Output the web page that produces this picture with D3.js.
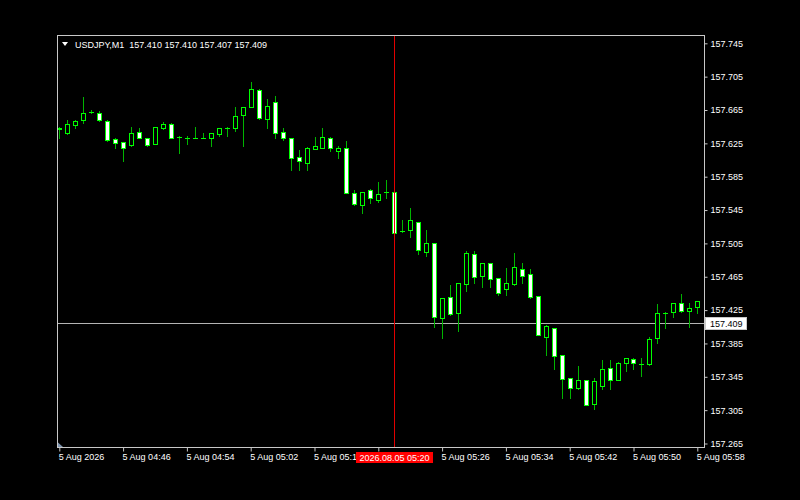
<!DOCTYPE html>
<html>
<head>
<meta charset="utf-8">
<script src="https://cdn.jsdelivr.net/npm/d3@7"></script>
<style>
html,body{margin:0;padding:0;background:#000;}
svg{display:block;}
text{font-family:"Liberation Sans",Arial,sans-serif;font-size:9px;}
</style>
</head>
<body>
<script>
// ---- data ----
const symbolLabel = "USDJPY,M1";
const headerValues = ["157.410", "157.410", "157.407", "157.409"];
const times = ["04:38","04:39","04:40","04:41","04:42","04:43","04:44","04:45","04:46","04:47",
"04:48","04:49","04:50","04:51","04:52","04:53","04:54","04:55","04:56","04:57",
"04:58","04:59","05:00","05:01","05:02","05:03","05:04","05:05","05:06","05:07",
"05:08","05:09","05:10","05:11","05:12","05:13","05:14","05:15","05:16","05:17",
"05:18","05:19","05:20","05:21","05:22","05:23","05:24","05:25","05:26","05:27",
"05:28","05:29","05:30","05:31","05:32","05:33","05:34","05:35","05:36","05:37",
"05:38","05:39","05:40","05:41","05:42","05:43","05:44","05:45","05:46","05:47",
"05:48","05:49","05:50","05:51","05:52","05:53","05:54","05:55","05:56","05:57","05:58"];
const open = [157.642,157.638,157.647,157.653,157.663,157.662,157.652,157.630,157.627,157.623,
157.639,157.632,157.624,157.644,157.648,157.633,157.632,157.632,157.632,157.632,
157.636,157.644,157.643,157.659,157.668,157.689,157.654,157.674,157.639,157.632,
157.609,157.602,157.618,157.620,157.632,157.616,157.619,157.565,157.551,157.569,
157.557,157.567,157.567,157.520,157.521,157.531,157.495,157.505,157.415,157.441,
157.421,157.456,157.492,157.466,157.482,157.463,157.450,157.456,157.474,157.468,
157.442,157.393,157.404,157.371,157.343,157.332,157.341,157.312,157.334,157.355,
157.341,157.361,157.366,157.360,157.360,157.391,157.422,157.423,157.434,157.424,157.429];
const high = [157.645,157.653,157.653,157.681,157.665,157.664,157.653,157.632,157.627,157.645,
157.644,157.632,157.645,157.651,157.649,157.634,157.634,157.645,157.637,157.637,
157.644,157.645,157.668,157.669,157.698,157.690,157.678,157.682,157.644,157.632,
157.617,157.621,157.633,157.644,157.633,157.622,157.628,157.569,157.567,157.570,
157.579,157.581,157.568,157.533,157.547,157.531,157.521,157.506,157.440,157.455,
157.458,157.496,157.496,157.481,157.482,157.463,157.475,157.493,157.481,157.474,
157.442,157.407,157.404,157.371,157.343,157.358,157.341,157.344,157.365,157.365,
157.363,157.367,157.367,157.367,157.393,157.432,157.423,157.434,157.444,157.433,157.436];
const low = [157.632,157.636,157.644,157.649,157.662,157.652,157.628,157.620,157.604,157.622,
157.631,157.622,157.624,157.642,157.631,157.613,157.624,157.631,157.631,157.622,
157.634,157.634,157.640,157.622,157.668,157.654,157.643,157.632,157.629,157.593,
157.593,157.593,157.618,157.619,157.616,157.608,157.565,157.551,157.542,157.553,
157.555,157.559,157.517,157.519,157.513,157.492,157.490,157.405,157.391,157.419,
157.400,157.448,157.457,157.453,157.453,157.443,157.443,157.455,157.458,157.440,
157.395,157.371,157.354,157.319,157.319,157.330,157.311,157.306,157.330,157.330,
157.341,157.352,157.354,157.346,157.359,157.385,157.404,157.417,157.423,157.405,157.421];
const close = [157.643,157.648,157.652,157.662,157.663,157.653,157.629,157.625,157.619,157.638,
157.632,157.623,157.645,157.648,157.632,157.633,157.632,157.632,157.632,157.637,
157.643,157.644,157.658,157.668,157.690,157.655,157.670,157.637,157.631,157.608,
157.604,157.620,157.622,157.633,157.619,157.620,157.566,157.552,157.567,157.560,
157.564,157.567,157.517,157.520,157.533,157.497,157.506,157.417,157.440,157.420,
157.457,157.494,157.465,157.481,157.462,157.446,157.457,157.477,157.466,157.441,
157.395,157.406,157.370,157.342,157.331,157.341,157.311,157.340,157.354,157.341,
157.362,157.367,157.361,157.360,157.390,157.421,157.422,157.434,157.424,157.428,157.436];
const yTickValues = [157.265,157.305,157.345,157.385,157.425,157.465,157.505,157.545,157.585,157.625,157.665,157.705,157.745];
const xTickTimes = ["04:38","04:46","04:54","05:02","05:10","05:18","05:26","05:34","05:42","05:50","05:58"];
const xTickLabels = ["5 Aug 2026","5 Aug 04:46","5 Aug 04:54","5 Aug 05:02","5 Aug 05:10","5 Aug 05:18","5 Aug 05:26","5 Aug 05:34","5 Aug 05:42","5 Aug 05:50","5 Aug 05:58"];
const bidPrice = 157.409;
const bidLabel = "157.409";
const crossTime = "05:20";
const crossLabel = "2026.08.05 05:20";

// ---- setup ----
const W = 800, H = 500;
const frame = {left: 57.5, top: 35.5, right: 704.5, bottom: 447.5};
const parseT = t => { const [h, m] = t.split(":").map(Number); return new Date(2026, 7, 5, h, m); };
const candles = times.map((t, i) => ({t: parseT(t), o: open[i], h: high[i], l: low[i], c: close[i]}));

const x = d3.scaleTime().domain([parseT("04:38"), parseT("05:58")]).range([59.3, 697.3]);
const y = d3.scaleLinear().domain([157.265, 157.745]).range([443.5, 43.3]);

const svg = d3.select("body").append("svg").attr("width", W).attr("height", H);
svg.append("rect").attr("width", W).attr("height", H).attr("fill", "#000");

svg.append("defs").append("clipPath").attr("id", "plot")
  .append("rect").attr("x", frame.left + 0.5).attr("y", frame.top + 0.5)
  .attr("width", frame.right - frame.left - 1).attr("height", frame.bottom - frame.top - 1);

// bid line
const by = Math.round(y(bidPrice)) + 0.5;
svg.append("line").attr("x1", frame.left).attr("x2", frame.right).attr("y1", by).attr("y2", by)
  .attr("stroke", "#b4b4b4").attr("stroke-width", 1);

// candles
const g = svg.append("g").attr("clip-path", "url(#plot)").attr("shape-rendering", "crispEdges");
const cg = g.selectAll("g.c").data(candles).join("g").attr("class", "c");
cg.append("rect")
  .attr("x", d => Math.round(x(d.t)))
  .attr("width", 1)
  .attr("y", d => Math.round(y(d.h)))
  .attr("height", d => Math.max(1, Math.round(y(d.l)) - Math.round(y(d.h)) + 1))
  .attr("fill", "#00b400");
cg.append("rect")
  .attr("x", d => Math.round(x(d.t)) - 2)
  .attr("width", 5)
  .attr("y", d => Math.round(y(Math.max(d.o, d.c))))
  .attr("height", d => Math.max(1, Math.round(y(Math.min(d.o, d.c))) - Math.round(y(Math.max(d.o, d.c))) + 1))
  .attr("fill", "#00ff00");
cg.filter(d => Math.round(y(Math.min(d.o, d.c))) - Math.round(y(Math.max(d.o, d.c))) >= 2)
  .append("rect")
  .attr("x", d => Math.round(x(d.t)) - 1)
  .attr("width", 3)
  .attr("y", d => Math.round(y(Math.max(d.o, d.c))) + 1)
  .attr("height", d => Math.round(y(Math.min(d.o, d.c))) - Math.round(y(Math.max(d.o, d.c))) - 1)
  .attr("fill", d => d.c >= d.o ? "#000" : "#fff");

// crosshair vertical
const cx = Math.round(x(parseT(crossTime))) + 0.5;
svg.append("line").attr("x1", cx).attr("x2", cx).attr("y1", frame.top).attr("y2", frame.bottom)
  .attr("stroke", "#e00000").attr("stroke-width", 1);

// frame
svg.append("rect").attr("x", frame.left).attr("y", frame.top)
  .attr("width", frame.right - frame.left).attr("height", frame.bottom - frame.top)
  .attr("fill", "none").attr("stroke", "#c8c8c8").attr("stroke-width", 1);

// chart shift triangle
svg.append("path").attr("d", `M${frame.left+0.5},${frame.bottom-5} L${frame.left+5.5},${frame.bottom-0.5} L${frame.left+0.5},${frame.bottom-0.5} Z`)
  .attr("fill", "#7f95b0");

// y axis
const yAxis = d3.axisRight(y).tickValues(yTickValues).tickFormat(d3.format(".3f")).tickSize(3).tickPadding(3);
const ya = svg.append("g").attr("transform", `translate(${frame.right},0)`).call(yAxis);
ya.select(".domain").remove();
ya.selectAll(".tick line").attr("stroke", "#c8c8c8");
ya.selectAll(".tick text").attr("fill", "#fff").attr("font-family", "Liberation Sans, Arial, sans-serif").attr("font-size", 9);

// x axis
const xAxis = d3.axisBottom(x).tickValues(xTickTimes.map(parseT))
  .tickFormat((d, i) => xTickLabels[i]).tickSize(4).tickPadding(2);
const xa = svg.append("g").attr("transform", `translate(0,${frame.bottom})`).call(xAxis);
xa.select(".domain").remove();
xa.selectAll(".tick line").attr("stroke", "#c8c8c8");
xa.selectAll(".tick text").attr("fill", "#fff").attr("text-anchor", "start").attr("x", -1)
  .attr("font-family", "Liberation Sans, Arial, sans-serif").attr("font-size", 9);

// bid label
const bl = svg.append("g");
bl.append("rect").attr("x", 705.5).attr("y", by - 6).attr("width", 41).attr("height", 12)
  .attr("fill", "#fff").attr("stroke", "#c8c8c8");
bl.append("text").attr("x", 710).attr("y", by + 3.5).attr("fill", "#000").text(bidLabel);

// crosshair label
const cl = svg.append("g");
cl.append("rect").attr("x", cx - 38.5).attr("y", 452).attr("width", 77).attr("height", 11).attr("fill", "#ff0000");
cl.append("text").attr("x", cx).attr("y", 461).attr("text-anchor", "middle").attr("fill", "#fff").text(crossLabel);

// header
svg.append("path").attr("d", "M62,42 L68,42 L65,46 Z").attr("fill", "#fff");
svg.append("text").attr("x", 75).attr("y", 47.5).attr("fill", "#fff").attr("xml:space", "preserve")
  .text(symbolLabel + "  " + headerValues.join(" "));
</script>
</body>
</html>
